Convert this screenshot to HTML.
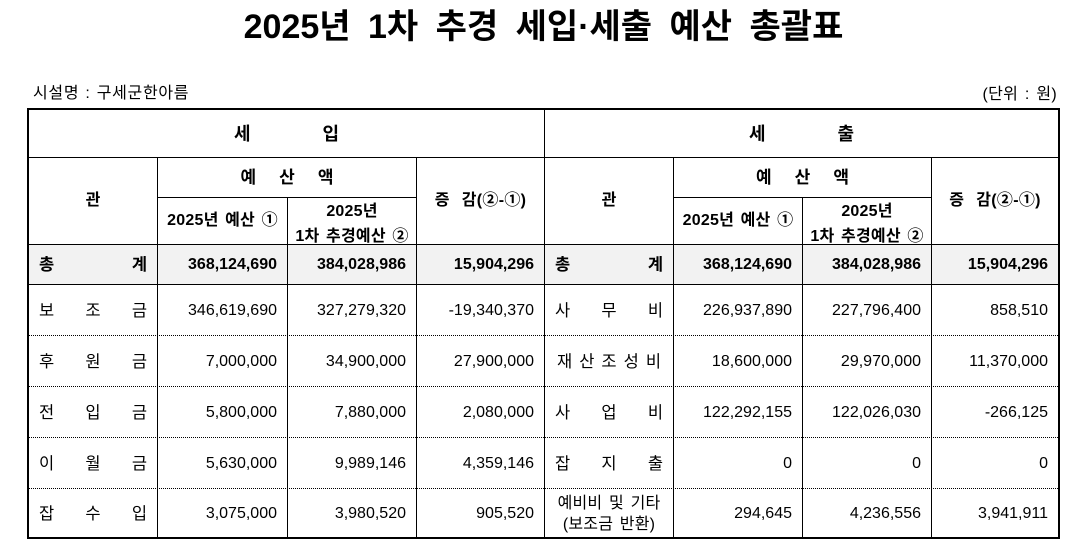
<!DOCTYPE html>
<html lang="ko">
<head>
<meta charset="utf-8">
<style>
  html,body{margin:0;padding:0;background:#fff;}
  body{width:1072px;height:552px;position:relative;overflow:hidden;
       font-family:"Liberation Sans","Noto Sans CJK KR",sans-serif;color:#000;}
  *{box-sizing:border-box;}
  .a{position:absolute;}
  .c{position:absolute;display:flex;align-items:center;font-size:16px;line-height:20px;white-space:nowrap;}
  .r{justify-content:flex-end;padding-right:10px;}
  .sp{justify-content:space-between;padding:0 10px;}
  .sp span{font-size:16.5px;}
  .ctr{justify-content:center;}
  .ko{word-spacing:2px;letter-spacing:0.2px;}
  .b{font-weight:bold;}
  .dr{padding-top:2px;}
  .h{position:absolute;height:0;border-top:1px solid #000;}
  .d{position:absolute;height:0;border-top:1px dotted #000;}
  .v{position:absolute;width:0;border-left:1px solid #000;}
</style>
</head>
<body>

<!-- Title -->
<div class="a b" style="left:0;top:7px;width:1087px;height:40px;line-height:40px;font-size:34px;text-align:center;white-space:nowrap;word-spacing:8px;">2025년 1차 추경 세입·세출 예산 총괄표</div>

<div class="a" style="left:33px;top:84px;font-size:16px;line-height:20px;white-space:nowrap;word-spacing:1px;letter-spacing:0.7px;">시설명 : 구세군한아름</div>
<div class="a" style="right:15px;top:85px;font-size:16px;line-height:20px;white-space:nowrap;text-align:right;word-spacing:2px;letter-spacing:0.3px;">(단위 : 원)</div>

<!-- total row background -->
<div class="a" style="left:29px;top:245px;width:1029px;height:39px;background:#f2f2f2;"></div>

<!-- outer border -->
<div class="a" style="left:27px;top:108px;width:1033px;height:431px;border:2px solid #000;"></div>

<!-- horizontal lines -->
<div class="h" style="left:29px;top:157px;width:1029px;"></div>
<div class="h" style="left:158px;top:197px;width:258px;"></div>
<div class="h" style="left:674px;top:197px;width:257px;"></div>
<div class="h" style="left:29px;top:244px;width:1029px;"></div>
<div class="h" style="left:29px;top:284px;width:1029px;"></div>
<div class="d" style="left:29px;top:335px;width:1029px;"></div>
<div class="d" style="left:29px;top:386px;width:1029px;"></div>
<div class="d" style="left:29px;top:437px;width:1029px;"></div>
<div class="d" style="left:29px;top:488px;width:1029px;"></div>

<!-- vertical lines -->
<div class="v" style="left:157px;top:158px;height:379px;"></div>
<div class="v" style="left:287px;top:198px;height:339px;"></div>
<div class="v" style="left:416px;top:158px;height:379px;"></div>
<div class="v" style="left:544px;top:110px;height:427px;"></div>
<div class="v" style="left:673px;top:158px;height:379px;"></div>
<div class="v" style="left:802px;top:198px;height:339px;"></div>
<div class="v" style="left:931px;top:158px;height:379px;"></div>

<!-- Header row 1 -->
<div class="c ctr b" style="left:29px;top:110px;width:515px;height:47px;font-size:18px;"><span>세</span><span style="margin-left:72px">입</span></div>
<div class="c ctr b" style="left:545px;top:110px;width:513px;height:47px;font-size:18px;"><span>세</span><span style="margin-left:72px">출</span></div>

<!-- Header row 2/3 left -->
<div class="c ctr b" style="left:29px;top:158px;width:128px;height:86px;">관</div>
<div class="c ctr b" style="left:158px;top:158px;width:258px;height:39px;font-size:17px;"><span>예</span><span style="margin-left:23px">산</span><span style="margin-left:23px">액</span></div>
<div class="c ctr b ko" style="left:158px;top:198px;width:129px;height:46px;">2025년 예산 ①</div>
<div class="c ctr b ko" style="left:288px;top:198px;width:128px;height:46px;flex-direction:column;line-height:25px;padding-top:5px;"><div>2025년</div><div>1차 추경예산 ②</div></div>
<div class="c ctr b" style="left:417px;top:158px;width:127px;height:86px;letter-spacing:0.3px;"><span>증</span><span style="margin-left:12px">감(②-①)</span></div>

<!-- Header row 2/3 right -->
<div class="c ctr b" style="left:545px;top:158px;width:128px;height:86px;">관</div>
<div class="c ctr b" style="left:674px;top:158px;width:257px;height:39px;font-size:17px;"><span>예</span><span style="margin-left:23px">산</span><span style="margin-left:23px">액</span></div>
<div class="c ctr b ko" style="left:674px;top:198px;width:128px;height:46px;">2025년 예산 ①</div>
<div class="c ctr b ko" style="left:803px;top:198px;width:128px;height:46px;flex-direction:column;line-height:25px;padding-top:5px;"><div>2025년</div><div>1차 추경예산 ②</div></div>
<div class="c ctr b" style="left:932px;top:158px;width:126px;height:86px;letter-spacing:0.3px;"><span>증</span><span style="margin-left:12px">감(②-①)</span></div>

<!-- Total row -->
<div class="c sp b" style="left:29px;top:245px;width:128px;height:39px;"><span>총</span><span>계</span></div>
<div class="c r b" style="left:158px;top:245px;width:129px;height:39px;">368,124,690</div>
<div class="c r b" style="left:288px;top:245px;width:128px;height:39px;">384,028,986</div>
<div class="c r b" style="left:417px;top:245px;width:127px;height:39px;">15,904,296</div>
<div class="c sp b" style="left:545px;top:245px;width:128px;height:39px;"><span>총</span><span>계</span></div>
<div class="c r b" style="left:674px;top:245px;width:128px;height:39px;">368,124,690</div>
<div class="c r b" style="left:803px;top:245px;width:128px;height:39px;">384,028,986</div>
<div class="c r b" style="left:932px;top:245px;width:126px;height:39px;">15,904,296</div>

<!-- Row 1 -->
<div class="c sp dr" style="left:29px;top:285px;width:128px;height:50px;"><span>보</span><span>조</span><span>금</span></div>
<div class="c r dr" style="left:158px;top:285px;width:129px;height:50px;">346,619,690</div>
<div class="c r dr" style="left:288px;top:285px;width:128px;height:50px;">327,279,320</div>
<div class="c r dr" style="left:417px;top:285px;width:127px;height:50px;">-19,340,370</div>
<div class="c sp dr" style="left:545px;top:285px;width:128px;height:50px;"><span>사</span><span>무</span><span>비</span></div>
<div class="c r dr" style="left:674px;top:285px;width:128px;height:50px;">226,937,890</div>
<div class="c r dr" style="left:803px;top:285px;width:128px;height:50px;">227,796,400</div>
<div class="c r dr" style="left:932px;top:285px;width:126px;height:50px;">858,510</div>

<!-- Row 2 -->
<div class="c sp dr" style="left:29px;top:336px;width:128px;height:50px;"><span>후</span><span>원</span><span>금</span></div>
<div class="c r dr" style="left:158px;top:336px;width:129px;height:50px;">7,000,000</div>
<div class="c r dr" style="left:288px;top:336px;width:128px;height:50px;">34,900,000</div>
<div class="c r dr" style="left:417px;top:336px;width:127px;height:50px;">27,900,000</div>
<div class="c sp dr" style="left:545px;top:336px;width:128px;height:50px;padding:2px 12px 0 12px;"><span>재</span><span>산</span><span>조</span><span>성</span><span>비</span></div>
<div class="c r dr" style="left:674px;top:336px;width:128px;height:50px;">18,600,000</div>
<div class="c r dr" style="left:803px;top:336px;width:128px;height:50px;">29,970,000</div>
<div class="c r dr" style="left:932px;top:336px;width:126px;height:50px;">11,370,000</div>

<!-- Row 3 -->
<div class="c sp dr" style="left:29px;top:387px;width:128px;height:50px;"><span>전</span><span>입</span><span>금</span></div>
<div class="c r dr" style="left:158px;top:387px;width:129px;height:50px;">5,800,000</div>
<div class="c r dr" style="left:288px;top:387px;width:128px;height:50px;">7,880,000</div>
<div class="c r dr" style="left:417px;top:387px;width:127px;height:50px;">2,080,000</div>
<div class="c sp dr" style="left:545px;top:387px;width:128px;height:50px;"><span>사</span><span>업</span><span>비</span></div>
<div class="c r dr" style="left:674px;top:387px;width:128px;height:50px;">122,292,155</div>
<div class="c r dr" style="left:803px;top:387px;width:128px;height:50px;">122,026,030</div>
<div class="c r dr" style="left:932px;top:387px;width:126px;height:50px;">-266,125</div>

<!-- Row 4 -->
<div class="c sp dr" style="left:29px;top:438px;width:128px;height:50px;"><span>이</span><span>월</span><span>금</span></div>
<div class="c r dr" style="left:158px;top:438px;width:129px;height:50px;">5,630,000</div>
<div class="c r dr" style="left:288px;top:438px;width:128px;height:50px;">9,989,146</div>
<div class="c r dr" style="left:417px;top:438px;width:127px;height:50px;">4,359,146</div>
<div class="c sp dr" style="left:545px;top:438px;width:128px;height:50px;"><span>잡</span><span>지</span><span>출</span></div>
<div class="c r dr" style="left:674px;top:438px;width:128px;height:50px;">0</div>
<div class="c r dr" style="left:803px;top:438px;width:128px;height:50px;">0</div>
<div class="c r dr" style="left:932px;top:438px;width:126px;height:50px;">0</div>

<!-- Row 5 -->
<div class="c sp dr" style="left:29px;top:489px;width:128px;height:48px;"><span>잡</span><span>수</span><span>입</span></div>
<div class="c r dr" style="left:158px;top:489px;width:129px;height:48px;">3,075,000</div>
<div class="c r dr" style="left:288px;top:489px;width:128px;height:48px;">3,980,520</div>
<div class="c r dr" style="left:417px;top:489px;width:127px;height:48px;">905,520</div>
<div class="c ctr ko" style="left:545px;top:489px;width:128px;height:48px;flex-direction:column;line-height:21px;padding-top:1px;"><div>예비비 및 기타</div><div>(보조금 반환)</div></div>
<div class="c r dr" style="left:674px;top:489px;width:128px;height:48px;">294,645</div>
<div class="c r dr" style="left:803px;top:489px;width:128px;height:48px;">4,236,556</div>
<div class="c r dr" style="left:932px;top:489px;width:126px;height:48px;">3,941,911</div>

</body>
</html>
